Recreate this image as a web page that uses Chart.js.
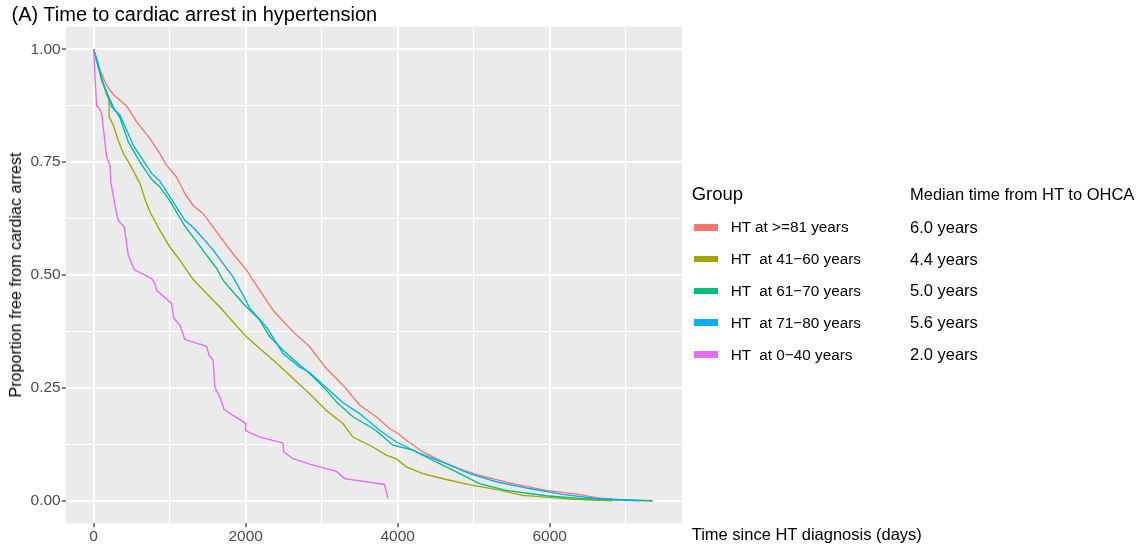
<!DOCTYPE html>
<html>
<head>
<meta charset="utf-8">
<script src="https://cdn.jsdelivr.net/npm/chart.js@4.4.1/dist/chart.umd.min.js"></script>
<style>
    body { margin: 0; background: #fff; }
    #wrap { position: relative; width: 1143px; height: 549px; font-family: "Liberation Sans", Arial, sans-serif; }
    #wrap span { position: absolute; line-height: 1; white-space: pre; color: #000; }
    .key { position: absolute; }
</style>
</head>
<body>
<div id="wrap">
    <canvas id="grafico" width="1143" height="549"></canvas>
</div>
<script>
// datos (dias, proporcion libre)
const grupos = ["HT at >=81 years", "HT  at 41\u221260 years", "HT  at 61\u221270 years", "HT  at 71\u221280 years", "HT  at 0\u221240 years"];
const medianas = ["6.0 years", "4.4 years", "5.0 years", "5.6 years", "2.0 years"];
const colores = ["#F8766D", "#A3A500", "#00BF7D", "#00B0F6", "#E76BF3"];

const diasMas81 = [0, 39, 105, 150, 192, 258, 346, 434, 477, 565, 652, 740, 871, 950, 1091, 1200, 1309, 1440, 1572, 1703, 1834, 2010, 2185, 2360, 2623, 2842, 3062, 3280, 3499, 3718, 3893, 4003, 4113, 4331, 4594, 4857, 5076, 5514, 5953, 6390, 6610, 6916, 7353];
const propMas81 = [1, 0.972, 0.946, 0.927, 0.915, 0.900, 0.887, 0.874, 0.863, 0.839, 0.821, 0.802, 0.769, 0.745, 0.717, 0.680, 0.654, 0.636, 0.606, 0.576, 0.547, 0.511, 0.466, 0.422, 0.374, 0.341, 0.293, 0.256, 0.212, 0.186, 0.160, 0.149, 0.134, 0.108, 0.086, 0.068, 0.056, 0.038, 0.023, 0.014, 0.007, 0.001, 0];

const dias41a60 = [0, 61, 126, 171, 201, 205, 258, 324, 390, 477, 608, 687, 740, 871, 1003, 1134, 1309, 1485, 1660, 1834, 2010, 2185, 2405, 2623, 2842, 3062, 3280, 3411, 3674, 3850, 3982, 4113, 4331, 4639, 4988, 5296, 5645, 5953, 6302, 6829];
const prop41a60 = [1, 0.961, 0.924, 0.898, 0.891, 0.850, 0.832, 0.798, 0.769, 0.745, 0.703, 0.662, 0.640, 0.599, 0.562, 0.533, 0.490, 0.459, 0.429, 0.396, 0.363, 0.337, 0.305, 0.271, 0.237, 0.200, 0.171, 0.141, 0.119, 0.101, 0.093, 0.075, 0.060, 0.047, 0.034, 0.025, 0.012, 0.008, 0.003, 0];

const dias61a70 = [0, 61, 105, 171, 258, 346, 455, 608, 762, 871, 1003, 1200, 1309, 1485, 1616, 1703, 1966, 2185, 2317, 2536, 2842, 3062, 3193, 3411, 3674, 3762, 3937, 4200, 4419, 4726, 4901, 5076, 5427, 5953, 6390, 7353];
const prop61a70 = [1, 0.968, 0.935, 0.905, 0.872, 0.848, 0.795, 0.750, 0.712, 0.695, 0.664, 0.608, 0.584, 0.544, 0.515, 0.488, 0.437, 0.400, 0.363, 0.326, 0.282, 0.245, 0.219, 0.186, 0.160, 0.149, 0.123, 0.112, 0.093, 0.068, 0.053, 0.038, 0.023, 0.011, 0.005, 0];

const dias71a80 = [0, 61, 105, 171, 237, 346, 455, 521, 608, 762, 871, 1046, 1200, 1309, 1440, 1572, 1703, 1834, 1966, 2054, 2273, 2491, 2711, 2842, 3062, 3280, 3499, 3762, 3982, 4288, 4639, 4945, 5296, 5733, 6171, 6610, 7178];
const prop71a80 = [1, 0.961, 0.931, 0.905, 0.872, 0.854, 0.813, 0.787, 0.765, 0.725, 0.708, 0.662, 0.621, 0.605, 0.581, 0.555, 0.525, 0.496, 0.455, 0.426, 0.385, 0.326, 0.296, 0.284, 0.250, 0.217, 0.193, 0.156, 0.130, 0.105, 0.082, 0.060, 0.042, 0.027, 0.014, 0.005, 0];

const dias0a40 = [0, 4, 39, 61, 105, 171, 214, 228, 302, 324, 402, 455, 534, 762, 806, 828, 1025, 1055, 1134, 1200, 1485, 1520, 1572, 1594, 1660, 1716, 1834, 1997, 2001, 2185, 2491, 2501, 2623, 2842, 3193, 3302, 3828, 3871];
const prop0a40 = [1, 0.983, 0.874, 0.872, 0.858, 0.761, 0.743, 0.703, 0.636, 0.621, 0.606, 0.544, 0.512, 0.492, 0.481, 0.466, 0.437, 0.404, 0.389, 0.357, 0.342, 0.322, 0.311, 0.251, 0.230, 0.202, 0.189, 0.172, 0.155, 0.141, 0.128, 0.108, 0.093, 0.081, 0.065, 0.049, 0.036, 0.005];

const xTicks = [0, 2000, 4000, 6000];
const xMinor = [1000, 3000, 5000, 7000];
const yTicks = [0, 0.25, 0.5, 0.75, 1];
const yMinor = [0.125, 0.375, 0.625, 0.875];

const series = [
    [diasMas81, propMas81],
    [dias41a60, prop41a60],
    [dias61a70, prop61a70],
    [dias71a80, prop71a80],
    [dias0a40, prop0a40]
];

const fuente = '"Liberation Sans", Arial, sans-serif';
const esMayor = (lista, ctx) => ctx.tick && lista.includes(ctx.tick.value);

// fondo gris del panel
const panelFondo = {
    id: "panelFondo",
    beforeDraw(c) {
        const a = c.chartArea, g = c.ctx;
        g.save();
        g.fillStyle = "#fff";
        g.fillRect(0, 0, c.width, c.height);
        g.fillStyle = "#EBEBEB";
        g.fillRect(a.left, a.top, a.right - a.left, a.bottom - a.top);
        g.restore();
    }
};

function gridOpts(mayores) {
    return {
        color: "#fff",
        lineWidth: ctx => esMayor(mayores, ctx) ? 2 : 1.1,
        tickColor: ctx => esMayor(mayores, ctx) ? "#333333" : "rgba(0,0,0,0)",
        tickLength: 4,
        tickWidth: 1.2
    };
}

const ctx = document.getElementById("grafico").getContext("2d");
new Chart(ctx, {
    type: "line",
    data: {
        datasets: series.map((s, i) => ({
            label: grupos[i],
            data: s[0].map((d, j) => ({ x: d, y: s[1][j] })),
            borderColor: colores[i],
            borderWidth: 1.35,
            pointRadius: 0,
            tension: 0,
            fill: false,
            order: series.length - i
        }))
    },
    options: {
        responsive: false,
        devicePixelRatio: 1,
        animation: false,
        layout: { padding: { left: 0, right: 461, top: 26.7, bottom: 0 } },
        plugins: { legend: { display: false }, tooltip: { enabled: false } },
        scales: {
            x: {
                type: "linear",
                min: -368,
                max: 7741,
                afterFit: s => { s.height = 25.7; },
                afterBuildTicks: s => { s.ticks = xTicks.concat(xMinor).sort((a, b) => a - b).map(v => ({ value: v })); },
                grid: gridOpts(xTicks),
                border: { display: false },
                ticks: {
                    callback: v => xTicks.includes(v) ? String(v) : "",
                    color: "#4D4D4D",
                    font: { family: fuente, size: 15.5 },
                    padding: 0,
                    maxRotation: 0,
                    autoSkip: false
                }
            },
            y: {
                type: "linear",
                min: -0.05,
                max: 1.05,
                afterFit: s => { s.width = 65.7; },
                afterBuildTicks: s => { s.ticks = yTicks.concat(yMinor).sort((a, b) => a - b).map(v => ({ value: v })); },
                grid: gridOpts(yTicks),
                border: { display: false },
                ticks: {
                    callback: v => yTicks.includes(v) ? v.toFixed(2) : "",
                    color: "#4D4D4D",
                    font: { family: fuente, size: 15.5 },
                    padding: 1,
                    autoSkip: false
                }
            }
        }
    },
    plugins: [panelFondo]
});

// textos: titulo, ejes y leyenda
const wrap = document.getElementById("wrap");
function texto(t, x, base, size, extra) {
    const s = document.createElement("span");
    s.textContent = t;
    s.style.left = x + "px";
    s.style.top = (base - 0.8465 * size) + "px";
    s.style.fontSize = size + "px";
    if (extra) Object.assign(s.style, extra);
    wrap.appendChild(s);
    return s;
}

texto("(A) Time to cardiac arrest in hypertension", 11.5, 20.9, 20);
texto("Time since HT diagnosis (days)", 691.7, 540, 16.5);
texto("Proportion free from cardiac arrest", 15, 275, 16.1, {
    top: "275px",
    transform: "translate(-50%, -50%) rotate(-90deg)"
});
texto("Group", 691.7, 200.7, 18.5);
texto("Median time from HT to OHCA", 910, 199.5, 16.5);

grupos.forEach((g, i) => {
    const base = 232.4 + i * 31.8;
    const k = document.createElement("div");
    k.className = "key";
    k.style.left = "694px";
    k.style.top = (base - 8.4) + "px";
    k.style.width = "24.3px";
    k.style.height = "6.5px";
    k.style.background = colores[i];
    wrap.appendChild(k);
    texto(g, 730.7, base, 15.3);
    texto(medianas[i], 910, base + 0.4, 16.5);
});
</script>
</body>
</html>
